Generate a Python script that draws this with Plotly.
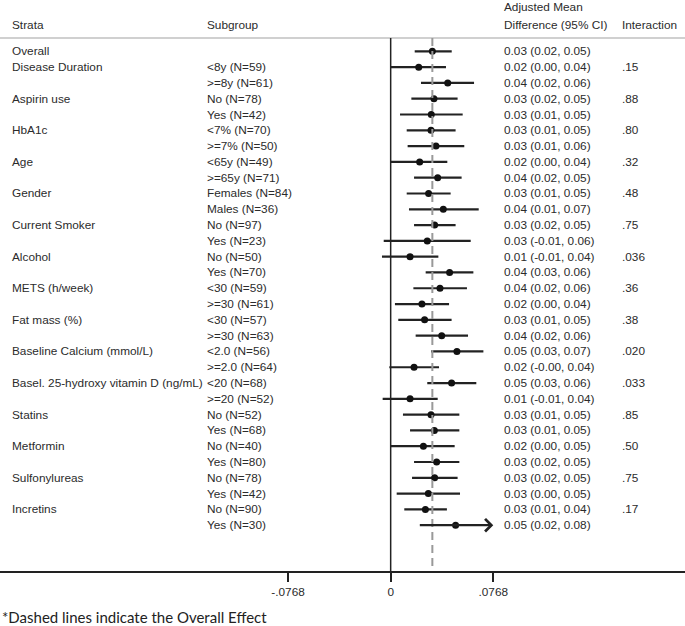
import plotly.graph_objects as go

# ---------------- data ----------------
strata = ["Overall", "Disease Duration", "", "Aspirin use", "", "HbA1c", "", "Age", "",
          "Gender", "", "Current Smoker", "", "Alcohol", "", "METS (h/week)", "",
          "Fat mass (%)", "", "Baseline Calcium (mmol/L)", "",
          "Basel. 25-hydroxy vitamin D (ng/mL)", "", "Statins", "", "Metformin", "",
          "Sulfonylureas", "", "Incretins", ""]
subgroups = ["", "<8y (N=59)", ">=8y (N=61)", "No (N=78)", "Yes (N=42)", "<7% (N=70)",
             ">=7% (N=50)", "<65y (N=49)", ">=65y (N=71)", "Females (N=84)", "Males (N=36)",
             "No (N=97)", "Yes (N=23)", "No (N=50)", "Yes (N=70)", "<30 (N=59)", ">=30 (N=61)",
             "<30 (N=57)", ">=30 (N=63)", "<2.0 (N=56)", ">=2.0 (N=64)", "<20 (N=68)",
             ">=20 (N=52)", "No (N=52)", "Yes (N=68)", "No (N=40)", "Yes (N=80)",
             "No (N=78)", "Yes (N=42)", "No (N=90)", "Yes (N=30)"]
est = [0.0312, 0.0210, 0.0427, 0.0324, 0.0304, 0.0302, 0.0339, 0.0217, 0.0352, 0.0284,
       0.0394, 0.0329, 0.0274, 0.0145, 0.0441, 0.0369, 0.0234, 0.0254, 0.0382, 0.0496,
       0.0175, 0.0456, 0.0145, 0.0302, 0.0327, 0.0245, 0.0344, 0.0329, 0.0282, 0.0260, 0.0486]
lo = [0.0180, 0.0000, 0.0227, 0.0155, 0.0070, 0.0120, 0.0127, 0.0000, 0.0175, 0.0120,
      0.0137, 0.0175, -0.0052, -0.0065, 0.0262, 0.0170, 0.0032, 0.0057, 0.0187, 0.0302,
      -0.0010, 0.0274, -0.0060, 0.0092, 0.0145, 0.0000, 0.0175, 0.0160, 0.0045, 0.0102, 0.0207]
hi = [0.0457, 0.0414, 0.0624, 0.0501, 0.0539, 0.0486, 0.0551, 0.0424, 0.0531, 0.0449,
      0.0659, 0.0486, 0.0599, 0.0357, 0.0619, 0.0571, 0.0437, 0.0456, 0.0579, 0.0694,
      0.0362, 0.0641, 0.0352, 0.0514, 0.0514, 0.0479, 0.0514, 0.0501, 0.0519, 0.0421, 0.0800]
ci_text = ["0.03 (0.02, 0.05)", "0.02 (0.00, 0.04)", "0.04 (0.02, 0.06)", "0.03 (0.02, 0.05)",
           "0.03 (0.01, 0.05)", "0.03 (0.01, 0.05)", "0.03 (0.01, 0.06)", "0.02 (0.00, 0.04)",
           "0.04 (0.02, 0.05)", "0.03 (0.01, 0.05)", "0.04 (0.01, 0.07)", "0.03 (0.02, 0.05)",
           "0.03 (-0.01, 0.06)", "0.01 (-0.01, 0.04)", "0.04 (0.03, 0.06)", "0.04 (0.02, 0.06)",
           "0.02 (0.00, 0.04)", "0.03 (0.01, 0.05)", "0.04 (0.02, 0.06)", "0.05 (0.03, 0.07)",
           "0.02 (-0.00, 0.04)", "0.05 (0.03, 0.06)", "0.01 (-0.01, 0.04)", "0.03 (0.01, 0.05)",
           "0.03 (0.01, 0.05)", "0.02 (0.00, 0.05)", "0.03 (0.02, 0.05)", "0.03 (0.02, 0.05)",
           "0.03 (0.00, 0.05)", "0.03 (0.01, 0.04)", "0.05 (0.02, 0.08)"]
interaction = ["", ".15", "", ".88", "", ".80", "", ".32", "", ".48", "", ".75", "", ".036", "",
               ".36", "", ".38", "", ".020", "", ".033", "", ".85", "", ".50", "", ".75", "",
               ".17", ""]
tick_vals = [-0.0768, 0, 0.0768]
tick_text = ["-.0768", "0", ".0768"]
headers = ["Strata", "Subgroup", "Difference (95% CI)", "Interaction"]
header_top = "Adjusted Mean"

# ---------------- layout constants ----------------
W, H = 685, 626
X_RANGE = [-0.2924, 0.2203]
Y_RANGE = [32.9, -3.25]      # row units (reversed)
CLIP = tick_vals[-1]
TXT = dict(family="Liberation Sans, Arial, sans-serif", size=11.8, color="#2b2b2b")
col_x = [10 / W, 205 / W, 502 / W, 620 / W]

rows = list(range(len(est)))
fig = go.Figure()

# CI lines (clipped at the axis limit)
xs, ys = [], []
for r in rows:
    if hi[r] <= CLIP:
        xs += [lo[r], hi[r], None]
        ys += [r, r, None]
fig.add_trace(go.Scatter(x=xs, y=ys, mode="lines", line=dict(color="#222", width=2.2),
                         hoverinfo="skip", showlegend=False))
# points
fig.add_trace(go.Scatter(x=est, y=rows, mode="markers",
                         marker=dict(color="#111", size=7, symbol="circle"),
                         showlegend=False))

ann = []
# clipped CIs with arrow
for r in rows:
    if hi[r] > CLIP:
        ann.append(dict(x=CLIP, y=r, ax=lo[r], ay=r, xref="x", yref="y", axref="x", ayref="y",
                        showarrow=True, arrowhead=4, arrowsize=1.1, arrowwidth=2.2,
                        arrowcolor="#222", text=""))

# table text
for r in rows:
    for cx, txt in zip(col_x, [strata[r], subgroups[r], ci_text[r], interaction[r]]):
        if txt:
            ann.append(dict(x=cx, y=r, xref="paper", yref="y", text=txt, showarrow=False,
                            xanchor="left", yanchor="middle", font=TXT))
# headers
for cx, txt in zip(col_x, headers):
    ann.append(dict(x=cx, y=-1.68, xref="paper", yref="y", text=txt, showarrow=False,
                    xanchor="left", yanchor="middle", font=TXT))
ann.append(dict(x=col_x[2], y=-2.8, xref="paper", yref="y", text=header_top,
                showarrow=False, xanchor="left", yanchor="middle", font=TXT))
# footnote
ann.append(dict(x=0, y=-0.081, xref="paper", yref="paper", showarrow=False,
                text="*Dashed lines indicate the Overall Effect", xanchor="left",
                yanchor="middle", font=dict(family="Lato, Open Sans, sans-serif", size=15,
                                            color="#222")))

shapes = [
    # header separator
    dict(type="line", xref="paper", yref="y", x0=0, x1=1, y0=-0.84, y1=-0.84,
         line=dict(color="#d0d0d0", width=2)),
    # zero line
    dict(type="line", xref="x", yref="y", x0=0, x1=0, y0=-0.84, y1=Y_RANGE[0],
         line=dict(color="#222", width=1.5)),
    # overall effect
    dict(type="line", xref="x", yref="y", x0=est[0], x1=est[0], y0=-0.84, y1=Y_RANGE[0],
         line=dict(color="#999", width=2, dash="8px,5px")),
]

fig.update_layout(
    width=W, height=H, margin=dict(l=0, r=0, t=0, b=55),
    paper_bgcolor="white", plot_bgcolor="white",
    xaxis=dict(range=X_RANGE, tickvals=tick_vals, ticktext=tick_text, showgrid=False,
               zeroline=False, showline=True, linecolor="#222", linewidth=1.5,
               ticks="outside", ticklen=9, tickwidth=1.5, tickcolor="#222",
               tickfont=TXT, fixedrange=True),
    yaxis=dict(range=Y_RANGE, visible=False, fixedrange=True),
    shapes=shapes, annotations=ann, showlegend=False,
)
fig.write_html("out.html", config={"displayModeBar": False},
               post_script="document.body.style.margin='0';document.body.style.overflow='hidden';")
